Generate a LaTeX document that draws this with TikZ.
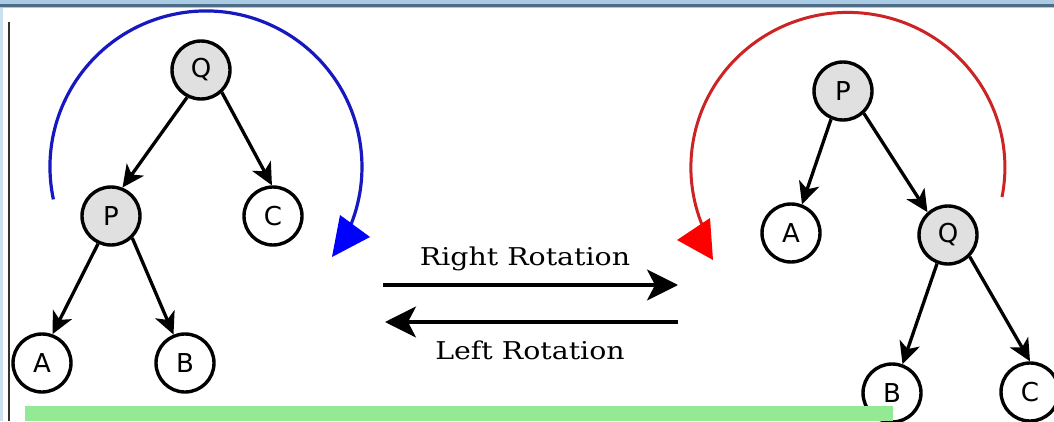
\documentclass[tikz,border=0pt]{standalone}
\usepackage{fontspec}
\setmainfont{DejaVu Serif}
\newfontfamily\nodefont{DejaVu Sans}
\newfontfamily\lblfont[FakeStretch=1.16]{DejaVu Serif}
\usetikzlibrary{arrows.meta}
\definecolor{topband}{HTML}{A9CBE3}
\definecolor{topline}{HTML}{4F6C86}
\definecolor{nodegray}{HTML}{E0E0E0}
\definecolor{barGreen}{HTML}{94E994}
\definecolor{arcblue}{HTML}{1818C0}
\definecolor{arcred}{HTML}{CC2424}
\tikzset{
  tn/.style={circle, draw=black, line width=3.4pt, minimum size=58pt, inner sep=0pt, fill=white, font=\nodefont\fontsize{26}{26}\selectfont},
  tg/.style={tn, fill=nodegray},
  edge/.style={line width=3.3pt, -{Stealth[length=22pt, width=21pt, inset=6pt]}},
  bigarrow/.style={line width=3.3pt, -{Stealth[length=31pt, width=31pt, inset=8pt]}},
  lbl/.style={font=\lblfont\fontsize{24.5}{24.5}\selectfont, inner sep=0pt}
}
\begin{document}
\begin{tikzpicture}[x=1pt,y=1pt]
\useasboundingbox (0,0) rectangle (1054,421);
\fill[white] (0,0) rectangle (1054,421);
% frame
\fill[topband] (0,413) rectangle (1054,421);
\fill[topline] (0,413.5) rectangle (1054,417);
\fill[topband!60] (0,0) rectangle (2.5,413);
\fill[black!80] (7.5,0) rectangle (9.5,399);

% left tree
\node[tg] (Q) at (201,351) {Q};
\node[tg] (P) at (111,205) {P};
\node[tn] (C) at (273,205) {C};
\node[tn] (A) at (42,58) {A};
\node[tn] (B) at (185,58) {B};
\draw[edge] (Q.-117) -- (P.68);
\draw[edge] (Q.-47) -- (C.92);
\draw[edge] (P.-115) -- (A.70);
\draw[edge] (P.-46) -- (B.112);

% right tree
\node[tg] (P2) at (843,330) {P};
\node[tn] (A2) at (791,188) {A};
\node[tg] (Q2) at (948,186) {Q};
\node[tn] (B2) at (892,28) {B};
\node[tn] (C2) at (1030,29) {C};
\draw[edge] (P2.-113) -- (A2.69);
\draw[edge] (P2.-47) -- (Q2.132);
\draw[edge] (Q2.-111) -- (B2.70);
\draw[edge] (Q2.-45) -- (C2.90);

% rotation arcs (heads drawn as triangles)
\coordinate (bs) at (53.4,221.6);
\draw[arcblue, line width=3.2pt] (bs) arc[start angle=192, end angle=-22, radius=156];
\coordinate (bt) at (332,164);
\coordinate (bb1) at (370,184);
\coordinate (bb2) at (340,206);
\fill[blue] (bt) -- (bb1) -- (bb2) -- cycle;
\coordinate (rs) at (1002,224);
\draw[arcred, line width=3pt] (rs) arc[start angle=-11, end angle=203, x radius=157, y radius=155];
\coordinate (rt1) at (713,161);
\coordinate (rb1) at (677,181);
\coordinate (rb2) at (710,203);
\fill[red] (rt1) -- (rb1) -- (rb2) -- cycle;

% middle arrows
\coordinate (r1) at (383,136);
\coordinate (r2) at (678,136);
\coordinate (l1) at (678,99);
\coordinate (l2) at (385,99);
\draw[bigarrow] (r1) -- (r2);
\draw[bigarrow] (l1) -- (l2);
\node[lbl] (rt) at (525,162) {Right Rotation};
\node[lbl] (lt) at (530,71) {Left Rotation};

% green bar
\fill[barGreen] (25,0) rectangle (893,15);
\end{tikzpicture}
\end{document}
